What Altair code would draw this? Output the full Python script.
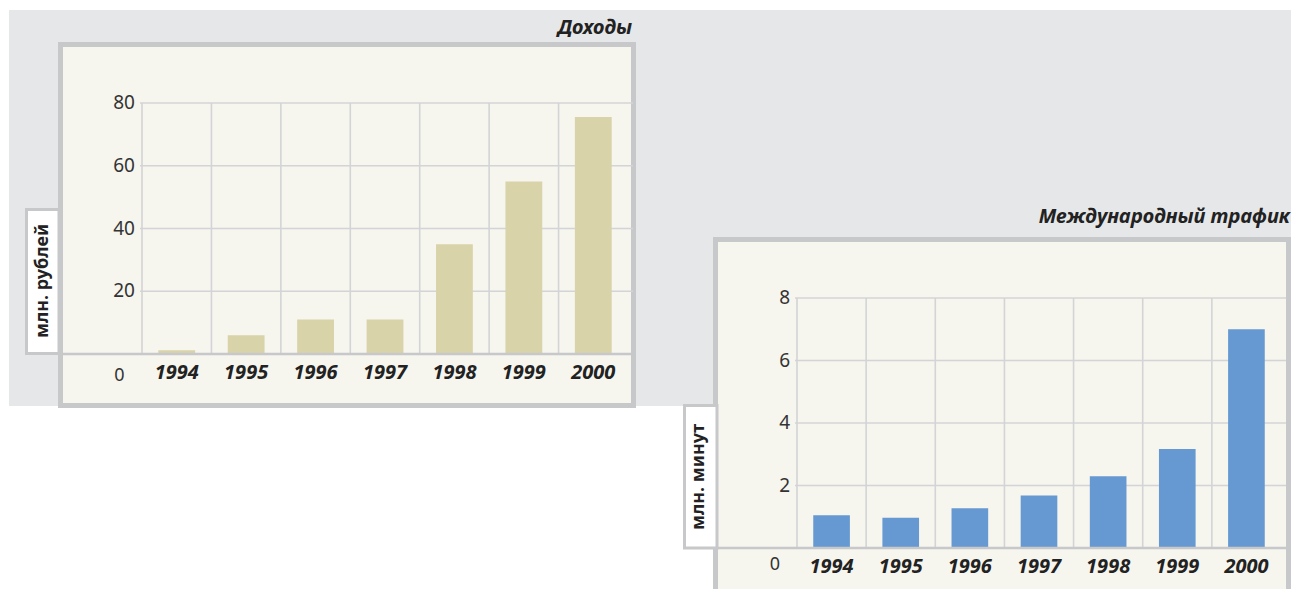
import altair as alt
import pandas as pd

# ---------------- data ----------------
years = ["1994", "1995", "1996", "1997", "1998", "1999", "2000"]
revenue = [1.2, 6, 11, 11, 35, 55, 75.5]          # млн. рублей
traffic = [1.05, 0.97, 1.27, 1.68, 2.3, 3.17, 7.0]  # млн. минут
rev_ticks = [20, 40, 60, 80]
traf_ticks = [2, 4, 6, 8]
zero_tick = [0]
rev_title = "Доходы"
traf_title = "Международный трафик"
rev_unit = "млн. рублей"
traf_unit = "млн.  минут"

# ---------------- style ----------------
W, H = 1283, 581
OX, OY = 8, 8
FONT = "Noto Sans"
GREY_BG = "#e6e7e9"
FRAME = "#c7c8ca"
CREAM = "#f6f5ee"
GRID = "#d3d4d6"
BEIGE = "#d8d3a8"
BLUE = "#6699d1"
TXT = "#222222"


def px(x):
    return x - OX


def py(y):
    return y - OY


one = pd.DataFrame({"k": [0]})


def rect(x, x2, y, y2, fill, stroke=None, sw=0):
    kw = dict(fill=fill)
    if stroke:
        kw.update(stroke=stroke, strokeWidth=sw)
    return alt.Chart(one).mark_rect(**kw).encode(
        x=alt.value(x), x2=alt.value(x2), y=alt.value(y), y2=alt.value(y2)
    )


def label(text, x, y, align="center", angle=0, size=18, bold=True, italic=False):
    kw = dict(text=text, align=align, baseline="middle", font=FONT, fontSize=size,
              color=TXT, fontWeight="bold" if bold else "normal")
    if italic:
        kw["fontStyle"] = "italic"
    if angle:
        kw["angle"] = angle
    return alt.Chart(one).mark_text(**kw).encode(x=alt.value(x), y=alt.value(y))


def panel(values, ticks, ymax, x0, x1, ybase, ytop, grid_x1, base_x0,
          tick_x, zero_x, zero_dy, color):
    xs = alt.Scale(domain=years, range=[px(x0), px(x1)], paddingInner=0, paddingOuter=0)
    ys = alt.Scale(domain=[0, ymax], range=[py(ybase), py(ytop)], nice=False, zero=True)
    df = pd.DataFrame({"year": years, "value": values})
    tdf = pd.DataFrame({"t": ticks})
    zdf = pd.DataFrame({"t": zero_tick})

    hgrid = alt.Chart(tdf).mark_rule(color=GRID, strokeWidth=1.6).encode(
        y=alt.Y("t:Q", scale=ys, axis=None),
        x=alt.value(px(x0) - 2), x2=alt.value(px(grid_x1)),
    )
    vgrid = alt.Chart(df).mark_rule(color=GRID, strokeWidth=1.6).encode(
        x=alt.X("year:N", scale=xs, axis=None, bandPosition=0),
        y=alt.YDatum(ymax, type="quantitative", scale=ys, axis=None),
        y2=alt.Y2Datum(0),
    )
    bars = alt.Chart(df).mark_bar(color=color, width=alt.RelativeBandSize(0.53)).encode(
        x=alt.X("year:N", scale=xs, axis=None),
        y=alt.Y("value:Q", scale=ys, axis=None),
    )
    base = alt.Chart(zdf).mark_rule(color=FRAME, strokeWidth=2.6).encode(
        y=alt.Y("t:Q", scale=ys, axis=None),
        x=alt.value(px(base_x0)), x2=alt.value(px(grid_x1)),
    )
    yr = alt.Chart(df).mark_text(font=FONT, fontSize=20, fontWeight="bold",
                                 fontStyle="italic", color=TXT, dy=19,
                                 baseline="middle").encode(
        x=alt.X("year:N", scale=xs, axis=None),
        y=alt.YDatum(0, type="quantitative", scale=ys, axis=None),
        text="year:N",
    )
    tl = alt.Chart(tdf).mark_text(font=FONT, fontSize=19, color="#333333",
                                  align="right", baseline="middle").encode(
        y=alt.Y("t:Q", scale=ys, axis=None),
        x=alt.value(px(tick_x)),
        text="t:Q",
    )
    zl = alt.Chart(zdf).mark_text(font=FONT, fontSize=18, color="#333333",
                                  align="center", baseline="middle", dy=zero_dy).encode(
        y=alt.Y("t:Q", scale=ys, axis=None),
        x=alt.value(px(zero_x)),
        text="t:Q",
    )
    return alt.layer(hgrid, vgrid, bars, base, yr, tl, zl)


# backgrounds
bg = rect(px(9), W + 5, py(10), py(406), GREY_BG)
frame1 = rect(px(60.5), px(633.5), py(44.5), py(405.5), CREAM, FRAME, 5)
box1 = rect(px(26.5), px(59), py(209.5), py(353.5), "#ffffff", FRAME, 3)
frame2 = rect(px(715.5), W - 2.5, py(239.5), H + 20, CREAM, FRAME, 5)
box2 = rect(px(684.5), px(717), py(405.5), py(548), "#ffffff", FRAME, 3)

t1 = label(rev_title, px(632), py(28), align="right", size=20, italic=True)
t2 = label(traf_title, px(1290), py(217), align="right", size=20, italic=True)
u1 = label(rev_unit, px(43), py(281), angle=270, size=18)
u2 = label(traf_unit, px(699), py(477), angle=270, size=18)

p1 = panel(revenue, rev_ticks, 80, 142, 628, 354, 103, 633, 58, 135, 119.5, 22, BEIGE)
p2 = panel(traffic, traf_ticks, 8, 797, 1281, 548, 298, 1286, 713, 790, 775, 17, BLUE)

chart = alt.layer(bg, frame1, frame2, p1, p2, box1, box2, t1, t2, u1, u2).resolve_scale(
    x="independent", y="independent"
).properties(
    width=W, height=H, autosize=alt.AutoSizeParams(type="none"), padding=0,
    background="#ffffff",
).configure_view(stroke=None)

chart.save("out.html", embed_options={"renderer": "svg", "actions": False})
